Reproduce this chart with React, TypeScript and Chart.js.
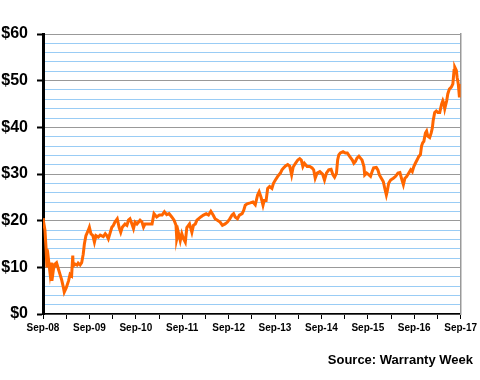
import React, { useEffect, useRef } from "react";
import { Chart, registerables } from "chart.js";

Chart.register(...registerables);

// Months since Sep-2008
const months: number[] = [
  0, 0.1, 0.5, 0.8, 1.0, 1.4, 1.8, 2.1, 2.3, 2.7, 3.1, 3.5, 4.0, 4.4, 4.8, 5.3, 5.5, 6.0, 6.6, 7.0,
  7.4, 7.7, 7.8, 8.3, 8.8, 9.1, 9.6, 10.0, 10.4, 10.7, 11.1, 11.7, 12.0, 12.4, 12.9, 13.3, 13.7, 14.3, 14.8, 15.6,
  16.1, 16.5, 16.9, 17.4, 17.8, 18.2, 18.6, 19.2, 19.7, 20.1, 20.5, 21.2, 21.7, 22.1, 22.5, 23.0, 23.4, 23.8, 24.3, 25.1,
  25.6, 26.0, 26.4, 27.3, 28.2, 28.7, 29.4, 30.1, 30.8, 31.4, 32.0, 32.6, 33.3, 33.9, 34.4, 34.6, 35.0, 35.5, 35.9, 36.3,
  36.8, 37.2, 37.9, 38.5, 38.9, 39.4, 39.8, 40.2, 40.8, 41.5, 42.2, 42.8, 43.4, 44.0, 44.5, 45.1, 45.8, 46.4, 47.1, 47.7,
  48.3, 48.9, 49.3, 49.7, 50.3, 50.8, 51.5, 51.9, 52.3, 52.8, 53.6, 54.3, 54.9, 55.5, 55.9, 56.4, 56.9, 57.2, 57.7, 58.1,
  58.6, 59.2, 59.6, 60.1, 60.7, 61.4, 61.8, 62.2, 62.7, 63.3, 63.8, 64.3, 64.7, 65.3, 65.9, 66.4, 66.8, 67.2, 67.6, 68.3,
  69.0, 69.6, 70.0, 70.4, 70.9, 71.6, 72.3, 72.8, 73.3, 73.9, 74.5, 75.0, 75.4, 75.9, 76.2, 76.5, 76.9, 77.6, 78.2, 78.7,
  79.3, 80.0, 80.4, 80.8, 81.2, 81.7, 82.1, 82.5, 83.0, 83.2, 83.7, 84.3, 84.7, 85.1, 85.5, 86.2, 86.6, 87.0, 87.5, 88.0,
  88.4, 88.8, 89.0, 89.4, 89.9, 90.6, 91.2, 91.8, 92.3, 92.7, 93.2, 93.6, 94.0, 94.6, 95.1, 95.5, 95.9, 96.3, 96.8, 97.2,
  97.6, 97.9, 98.2, 98.5, 98.9, 99.2, 99.5, 100.0, 100.4, 100.7, 100.9, 101.3, 101.7, 102.1, 102.6, 103.1, 103.4, 103.7, 103.9, 104.4,
  104.7, 105.1, 105.6, 106.0, 106.3, 106.5, 106.9, 107.1, 107.4, 107.7, 108.0,
];

const prices: number[] = [
  20.5, 20.0, 18.0, 14.0, 10.0, 11.8, 8.9, 11.0, 7.1, 9.6, 10.7, 11.0, 9.6, 8.5, 7.4, 5.6, 4.7, 5.6, 7.1, 8.5,
  8.2, 12.5, 10.3, 10.7, 10.5, 10.9, 10.5, 11.0, 12.8, 15.0, 16.8, 17.9, 18.6, 17.2, 16.8, 15.4, 16.8, 16.5, 16.9, 16.6,
  17.2, 16.8, 16.1, 17.5, 18.6, 19.0, 19.7, 20.4, 18.5, 17.5, 18.6, 19.3, 19.0, 20.1, 20.4, 19.3, 18.3, 19.7, 19.3, 20.1,
  19.7, 18.6, 19.3, 19.3, 19.3, 21.5, 20.8, 21.2, 21.2, 21.9, 21.3, 21.5, 20.8, 20.1, 19.0, 16.1, 17.5, 15.7, 17.2, 16.2,
  15.4, 18.5, 19.3, 17.5, 19.0, 19.3, 20.1, 20.4, 20.8, 21.2, 21.5, 21.2, 22.0, 21.2, 20.4, 20.1, 19.7, 19.0, 19.3, 19.7,
  20.4, 21.2, 21.5, 20.8, 20.4, 21.2, 21.5, 22.2, 23.3, 23.6, 23.8, 24.0, 23.4, 25.5, 26.2, 25.0, 23.3, 24.3, 24.3, 26.9,
  27.3, 26.9, 28.0, 28.7, 29.5, 30.2, 30.9, 31.3, 31.7, 32.0, 31.7, 29.8, 31.5, 32.3, 33.0, 33.3, 33.0, 31.6, 32.3, 31.6,
  31.6, 31.3, 30.9, 29.1, 30.2, 30.5, 30.0, 28.7, 30.2, 30.9, 31.0, 29.8, 29.3, 30.2, 33.0, 34.1, 34.5, 34.8, 34.5, 34.5,
  33.8, 33.0, 32.3, 32.7, 33.4, 33.8, 33.4, 33.0, 31.6, 29.8, 30.2, 29.8, 29.5, 30.5, 31.3, 31.4, 30.9, 29.8, 29.1, 28.4,
  26.9, 25.5, 26.2, 28.0, 28.7, 29.1, 29.5, 30.2, 30.3, 29.1, 27.7, 29.1, 29.4, 30.2, 30.9, 30.5, 31.6, 32.3, 33.1, 33.8,
  34.1, 36.0, 36.7, 37.0, 38.8, 39.2, 38.1, 37.8, 38.8, 39.9, 41.4, 43.2, 43.5, 43.2, 43.2, 45.0, 45.7, 45.0, 44.0, 45.7,
  47.2, 48.2, 48.6, 49.3, 52.2, 52.9, 52.2, 50.7, 49.3, 46.4, 49.3,
];

const xTickLabels: string[] = ["Sep-08", "Sep-09", "Sep-10", "Sep-11", "Sep-12", "Sep-13", "Sep-14", "Sep-15", "Sep-16", "Sep-17"];
const sourceText = "Source: Warranty Week";

export default function App() {
  const ref = useRef<HTMLCanvasElement | null>(null);

  useEffect(() => {
    if (!ref.current) return;
    const FONT = 'Arial, "Liberation Sans", sans-serif';
    const chart = new Chart(ref.current, {
      type: "line",
      data: {
        datasets: [
          {
            data: months.map((m, i) => ({ x: m, y: prices[i] })),
            borderColor: "#ff6600",
            borderWidth: 3,
            pointRadius: 0,
            tension: 0,
            fill: false,
          },
        ],
      },
      options: {
        animation: false,
        responsive: false,
        maintainAspectRatio: false,
        layout: { padding: { top: 34, left: 0, right: 0, bottom: 0 } },
        plugins: { legend: { display: false }, tooltip: { enabled: false }, title: { display: false } },
        scales: {
          x: {
            type: "linear",
            min: 0,
            max: 108,
            afterFit: (s: any) => {
              s.height = 66;
            },
            afterBuildTicks: (s: any) => {
              const t = [];
              for (let v = 0; v <= 108; v += 6) t.push({ value: v });
              s.ticks = t;
            },
            ticks: {
              autoSkip: false,
              maxRotation: 0,
              padding: 3,
              color: "#000",
              font: { family: FONT, size: 10, weight: "bold" },
              callback: (v: any) => {
                const n = Number(v);
                return n % 12 === 0 ? xTickLabels[n / 12] : "";
              },
            },
            grid: {
              drawOnChartArea: false,
              drawTicks: true,
              tickLength: 5,
              tickColor: "#000",
              tickWidth: 1,
            },
            border: { display: true, color: "#000", width: 1.5 },
          },
          y: {
            min: 0,
            max: 60,
            afterFit: (s: any) => {
              s.width = 43;
            },
            ticks: {
              stepSize: 2,
              autoSkip: false,
              padding: 9,
              color: "#000",
              font: { family: FONT, size: 16, weight: "bold" },
              callback: (v: any) => (Number(v) % 10 === 0 ? "$" + v : ""),
            },
            grid: {
              color: (c: any) => (c.tick && c.tick.value % 10 === 0 ? "#999999" : "#99ccf5"),
              lineWidth: 1,
              drawTicks: true,
              tickLength: 6,
              tickColor: (c: any) => (c.tick && c.tick.value % 10 === 0 ? "#000" : "rgba(0,0,0,0)"),
              tickWidth: 2,
            },
            border: { display: true, color: "#000", width: 3 },
          },
          y2: {
            position: "right",
            min: 0,
            max: 60,
            afterFit: (s: any) => {
              s.width = 19;
            },
            ticks: { display: false },
            grid: { drawOnChartArea: false, drawTicks: false },
            border: { display: true, color: "#999999", width: 1.5 },
          },
        },
      },
    } as any);
    return () => chart.destroy();
  }, []);

  return (
    <div style={{ position: "fixed", left: 0, top: 0, width: 480, height: 380, background: "#fff" }}>
      <canvas ref={ref} width={480} height={380} style={{ width: 480, height: 380, display: "block" }} />
      <div
        style={{
          position: "absolute",
          right: 7,
          top: 352,
          fontFamily: 'Arial, "Liberation Sans", sans-serif',
          fontWeight: "bold",
          fontSize: 13,
          color: "#000",
          whiteSpace: "nowrap",
        }}
      >
        {sourceText}
      </div>
    </div>
  );
}
